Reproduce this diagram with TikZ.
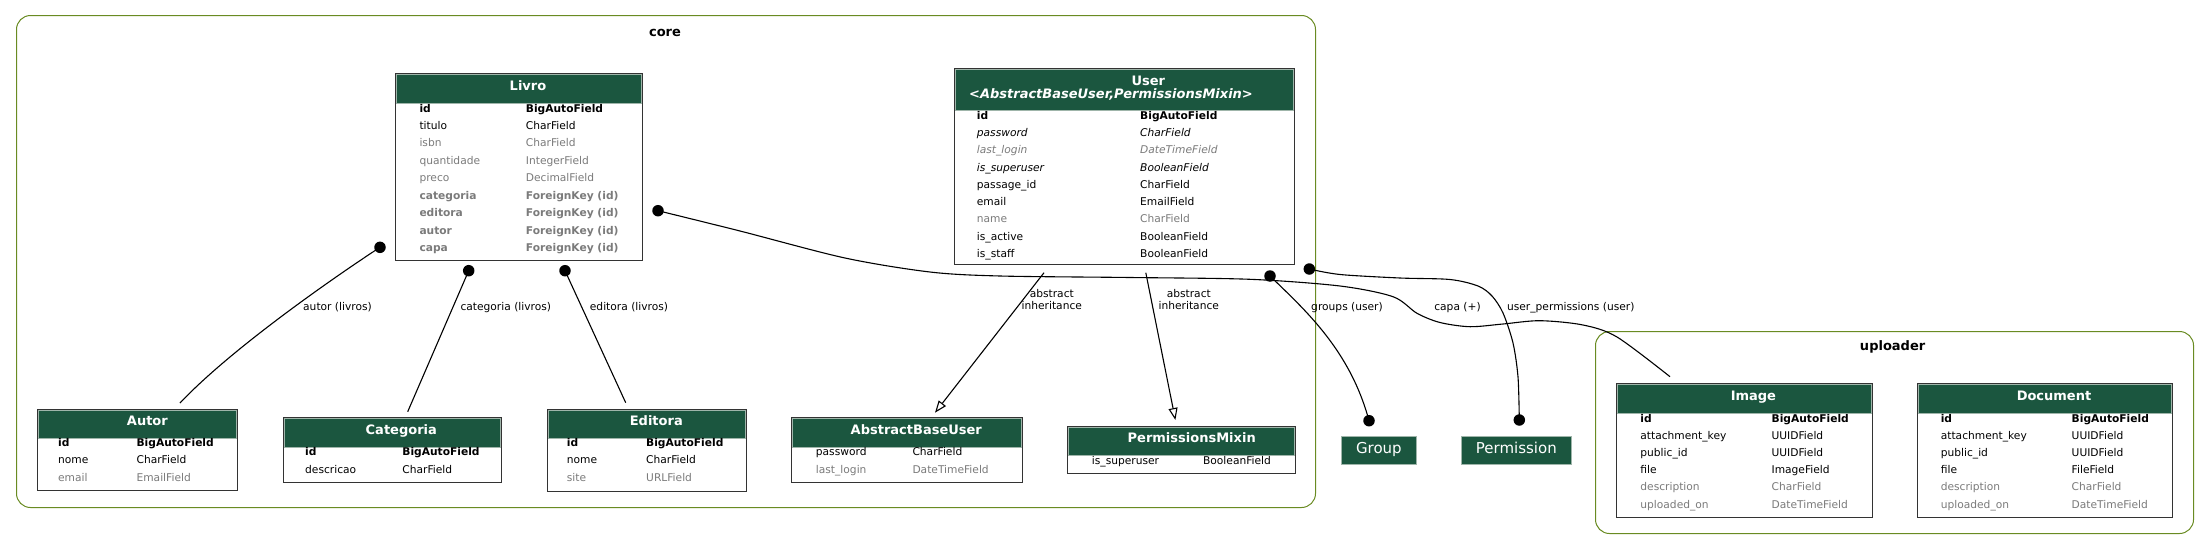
\documentclass[tikz,border=0pt]{standalone}
\usepackage{fontspec}
\setmainfont{DejaVu Sans}[ItalicFont={DejaVu Sans Oblique},BoldFont={DejaVu Sans Bold},BoldItalicFont={DejaVu Sans Bold Oblique}]
\usetikzlibrary{arrows.meta,calc}
\definecolor{hdrgreen}{HTML}{1B563F}
\definecolor{fgray}{HTML}{7B7B7B}
\definecolor{olivec}{HTML}{698B22}
\definecolor{framec}{HTML}{333333}
\definecolor{hdrline}{HTML}{9FB5AA}
\newcommand\fldfont{\fontsize{10.67pt}{12.3pt}\selectfont}
\newcommand\hdfont{\fontsize{13pt}{15pt}\selectfont\bfseries}
\newcommand\mtable[6]{%
  \node[tblbox, minimum width=#4pt, minimum height=#5pt] (#1) at (#2,#3) {};
  \node[hdrbox, minimum width=#4pt-2pt, minimum height=#6pt, anchor=north west] (#1-h) at ($(#1.north west)+(1,1)$) {};
}
\begin{document}
\begin{tikzpicture}[x=1pt,y=-1pt,
  fld/.style={anchor=west, inner sep=0pt, font=\fldfont, text height=7.5pt, text depth=2pt},
  fb/.style={fld, font=\fldfont\bfseries},
  fi/.style={fld, font=\fldfont\itshape},
  fg/.style={fld, text=fgray},
  fgb/.style={fld, text=fgray, font=\fldfont\bfseries},
  fgi/.style={fld, text=fgray, font=\fldfont\itshape},
  hd/.style={inner sep=0pt, text=white, font=\hdfont, text height=9.5pt, text depth=2.5pt},
  hdi/.style={hd, font=\hdfont\itshape},
  tblbox/.style={draw=framec, line width=1.2pt, fill=white, inner sep=0pt, anchor=north west},
  hdrbox/.style={fill=hdrgreen, draw=hdrline, line width=0.6pt, inner sep=0pt},
  clbox/.style={draw=olivec, line width=1pt, rounded corners=14pt, inner sep=0pt, anchor=north west},
  cltitle/.style={inner sep=0pt, font=\hdfont, text height=9.5pt, text depth=2.5pt},
  gbox/.style={fill=hdrgreen, draw=hdrline, line width=0.8pt, text=white, inner sep=0pt,
     font=\fontsize{15pt}{17pt}\selectfont, text height=11pt, text depth=5pt, anchor=north west},
  edge/.style={line width=1.1pt, black},
  inh/.style={edge, -{Triangle[open, length=12pt, width=9pt, line width=1.1pt]}},
  dotn/.style={circle, fill=black, inner sep=0pt, minimum size=11.5pt},
  elab/.style={inner sep=0pt, font=\fldfont, text height=7.5pt, text depth=2pt, align=center}
]
\useasboundingbox (0,0) rectangle (2209,549);

% clusters
\node[clbox, minimum width=1299pt, minimum height=492pt] (core) at (16,15) {};
\node[cltitle] (core-t) at (665,32.7) {core};
\node[clbox, minimum width=598pt, minimum height=202pt] (uploader) at (1595,331) {};
\node[cltitle] (uploader-t) at (1892.6,346.6) {uploader};

% edge end coordinates
\coordinate (eA) at (180,403);
\coordinate (eC) at (407.7,411.7);
\coordinate (eE) at (625.7,402.7);
\coordinate (eP) at (1670,376.7);
\coordinate (sI1) at (1044,272.7);
\coordinate (sI2) at (1145.8,272.7);
\coordinate (tI1) at (935,412.7);
\coordinate (tI2) at (1175.4,420);

% dots positions
\coordinate (pA) at (380,247.3);
\coordinate (pC) at (468.7,270.7);
\coordinate (pE) at (565,270.7);
\coordinate (pP) at (658,210.7);
\coordinate (pG1) at (1270,276);
\coordinate (pG2) at (1369,420.7);
\coordinate (pU1) at (1309.3,269);
\coordinate (pU2) at (1519.3,420);

% edges
\draw[edge] (pA) .. controls (330,280) and (230,350) .. (eA);
\draw[edge] (pC) -- (eC);
\draw[edge] (pE) -- (eE);
\draw[edge] plot[smooth, tension=0.5] coordinates {(pP) (740,231) (845,258) (930,272) (1000,276) (1130,277.5) (1250,279.3) (1340,286) (1393,296.7) (1417,313.3) (1440,322.5) (1470,326.7) (1503,324) (1540,320.7) (1583,325) (1617,337) (eP)};
\draw[edge] (pG1) .. controls (1305,310) and (1350,350) .. (pG2);
\draw[edge] plot[smooth, tension=0.5] coordinates {(pU1) (1340,274.5) (1400,278) (1450,279.5) (1478,286) (1492,296) (1503,313) (1513,343) (1518,377) (pU2)};
\draw[inh] (sI1) -- (tI1);
\draw[inh] (sI2) -- (tI2);

% dots
\node[dotn] (dA) at (pA) {};
\node[dotn] (dC) at (pC) {};
\node[dotn] (dE) at (pE) {};
\node[dotn] (dP) at (pP) {};
\node[dotn] (dG1) at (pG1) {};
\node[dotn] (dG2) at (pG2) {};
\node[dotn] (dU1) at (pU1) {};
\node[dotn] (dU2) at (pU2) {};

% edge labels
\node[elab] (lA) at (337.5,307.3) {autor (livros)};
\node[elab] (lC) at (505.8,307.3) {categoria (livros)};
\node[elab] (lE) at (629,307.3) {editora (livros)};
\node[elab] (lI1) at (1051.8,307.2) {abstract\\inheritance};
\node[elab] (lI2) at (1188.8,307.2) {abstract\\inheritance};
\node[elab] (lG) at (1347,307.3) {groups (user)};
\node[elab] (lP) at (1457.5,307.3) {capa (+)};
\node[elab] (lU) at (1570.8,307.3) {user\_permissions (user)};

% ---------- Livro
\mtable{livro}{395}{73}{247}{187}{29}
\node[hd] (livro-t) at (528,87.3) {Livro};
\node[fb] (livro-1n) at (419.3,109.3) {id};          \node[fb] (livro-1t) at (525.7,109.3) {BigAutoField};
\node[fld] (livro-2n) at (419.3,126.8) {titulo};     \node[fld] (livro-2t) at (525.7,126.8) {CharField};
\node[fg] (livro-3n) at (419.3,144.2) {isbn};        \node[fg] (livro-3t) at (525.7,144.2) {CharField};
\node[fg] (livro-4n) at (419.3,161.7) {quantidade};  \node[fg] (livro-4t) at (525.7,161.7) {IntegerField};
\node[fg] (livro-5n) at (419.3,179.1) {preco};       \node[fg] (livro-5t) at (525.7,179.1) {DecimalField};
\node[fgb] (livro-6n) at (419.3,196.6) {categoria};  \node[fgb] (livro-6t) at (525.7,196.6) {ForeignKey (id)};
\node[fgb] (livro-7n) at (419.3,214.0) {editora};    \node[fgb] (livro-7t) at (525.7,214.0) {ForeignKey (id)};
\node[fgb] (livro-8n) at (419.3,231.5) {autor};      \node[fgb] (livro-8t) at (525.7,231.5) {ForeignKey (id)};
\node[fgb] (livro-9n) at (419.3,248.9) {capa};       \node[fgb] (livro-9t) at (525.7,248.9) {ForeignKey (id)};

% ---------- User
\mtable{user}{954}{68}{340}{196}{41}
\node[hd] (user-t1) at (1148.3,82) {User};
\node[hdi] (user-t2) at (1111,95) {<AbstractBaseUser,PermissionsMixin>};
\node[fb] (user-1n) at (976.7,116.7) {id};              \node[fb] (user-1t) at (1140,116.7) {BigAutoField};
\node[fi] (user-2n) at (976.7,133.95) {password};       \node[fi] (user-2t) at (1140,133.95) {CharField};
\node[fgi] (user-3n) at (976.7,151.2) {last\_login};    \node[fgi] (user-3t) at (1140,151.2) {DateTimeField};
\node[fi] (user-4n) at (976.7,168.45) {is\_superuser};  \node[fi] (user-4t) at (1140,168.45) {BooleanField};
\node[fld] (user-5n) at (976.7,185.7) {passage\_id};    \node[fld] (user-5t) at (1140,185.7) {CharField};
\node[fld] (user-6n) at (976.7,202.95) {email};         \node[fld] (user-6t) at (1140,202.95) {EmailField};
\node[fg] (user-7n) at (976.7,220.2) {name};            \node[fg] (user-7t) at (1140,220.2) {CharField};
\node[fld] (user-8n) at (976.7,237.45) {is\_active};    \node[fld] (user-8t) at (1140,237.45) {BooleanField};
\node[fld] (user-9n) at (976.7,254.7) {is\_staff};      \node[fld] (user-9t) at (1140,254.7) {BooleanField};

% ---------- Autor
\mtable{autor}{37}{409}{200}{81}{28}
\node[hd] (autor-t) at (147.4,421.7) {Autor};
\node[fb] (autor-1n) at (57.9,443.3) {id};     \node[fb] (autor-1t) at (136.4,443.3) {BigAutoField};
\node[fld] (autor-2n) at (57.9,461) {nome};    \node[fld] (autor-2t) at (136.4,461) {CharField};
\node[fg] (autor-3n) at (57.9,479) {email};    \node[fg] (autor-3t) at (136.4,479) {EmailField};

% ---------- Categoria
\mtable{categoria}{283}{417}{218}{65}{29}
\node[hd] (categoria-t) at (401.3,431) {Categoria};
\node[fb] (categoria-1n) at (305,452.7) {id};        \node[fb] (categoria-1t) at (402.2,452.7) {BigAutoField};
\node[fld] (categoria-2n) at (305,471) {descricao};  \node[fld] (categoria-2t) at (402.2,471) {CharField};

% ---------- Editora
\mtable{editora}{547}{409}{199}{82}{28}
\node[hd] (editora-t) at (656.3,421.7) {Editora};
\node[fb] (editora-1n) at (566.7,443.3) {id};     \node[fb] (editora-1t) at (646,443.3) {BigAutoField};
\node[fld] (editora-2n) at (566.7,461) {nome};    \node[fld] (editora-2t) at (646,461) {CharField};
\node[fg] (editora-3n) at (566.7,479) {site};     \node[fg] (editora-3t) at (646,479) {URLField};

% ---------- AbstractBaseUser
\mtable{abu}{791}{417}{231}{65}{29}
\node[hd] (abu-t) at (916.3,431) {AbstractBaseUser};
\node[fld] (abu-1n) at (815.7,452.7) {password};   \node[fld] (abu-1t) at (912.3,452.7) {CharField};
\node[fg] (abu-2n) at (815.7,471) {last\_login};   \node[fg] (abu-2t) at (912.3,471) {DateTimeField};

% ---------- PermissionsMixin
\mtable{pm}{1067}{426}{228}{47}{28}
\node[hd] (pm-t) at (1191.7,438.8) {PermissionsMixin};
\node[fld] (pm-1n) at (1091.7,461.5) {is\_superuser};  \node[fld] (pm-1t) at (1202.9,461.5) {BooleanField};

% ---------- Group / Permission
\node[gbox, minimum width=74.4pt, minimum height=28.3pt] (group) at (1341.3,436) {Group};
\node[gbox, minimum width=109.5pt, minimum height=28.3pt] (permission) at (1461.2,436) {Permission};

% ---------- Image
\mtable{image}{1616}{383}{256}{134}{29}
\node[hd] (image-t) at (1753.4,396.7) {Image};
\node[fb] (image-1n) at (1640.2,419.3) {id};                 \node[fb] (image-1t) at (1771.4,419.3) {BigAutoField};
\node[fld] (image-2n) at (1640.2,436.5) {attachment\_key};   \node[fld] (image-2t) at (1771.4,436.5) {UUIDField};
\node[fld] (image-3n) at (1640.2,453.7) {public\_id};        \node[fld] (image-3t) at (1771.4,453.7) {UUIDField};
\node[fld] (image-4n) at (1640.2,470.9) {file};              \node[fld] (image-4t) at (1771.4,470.9) {ImageField};
\node[fg] (image-5n) at (1640.2,488.1) {description};        \node[fg] (image-5t) at (1771.4,488.1) {CharField};
\node[fg] (image-6n) at (1640.2,505.3) {uploaded\_on};       \node[fg] (image-6t) at (1771.4,505.3) {DateTimeField};

% ---------- Document
\mtable{document}{1917}{383}{255}{134}{29}
\node[hd] (document-t) at (2054,396.7) {Document};
\node[fb] (document-1n) at (1940.6,419.3) {id};                 \node[fb] (document-1t) at (2071.5,419.3) {BigAutoField};
\node[fld] (document-2n) at (1940.6,436.5) {attachment\_key};   \node[fld] (document-2t) at (2071.5,436.5) {UUIDField};
\node[fld] (document-3n) at (1940.6,453.7) {public\_id};        \node[fld] (document-3t) at (2071.5,453.7) {UUIDField};
\node[fld] (document-4n) at (1940.6,470.9) {file};              \node[fld] (document-4t) at (2071.5,470.9) {FileField};
\node[fg] (document-5n) at (1940.6,488.1) {description};        \node[fg] (document-5t) at (2071.5,488.1) {CharField};
\node[fg] (document-6n) at (1940.6,505.3) {uploaded\_on};       \node[fg] (document-6t) at (2071.5,505.3) {DateTimeField};
\end{tikzpicture}
\end{document}
